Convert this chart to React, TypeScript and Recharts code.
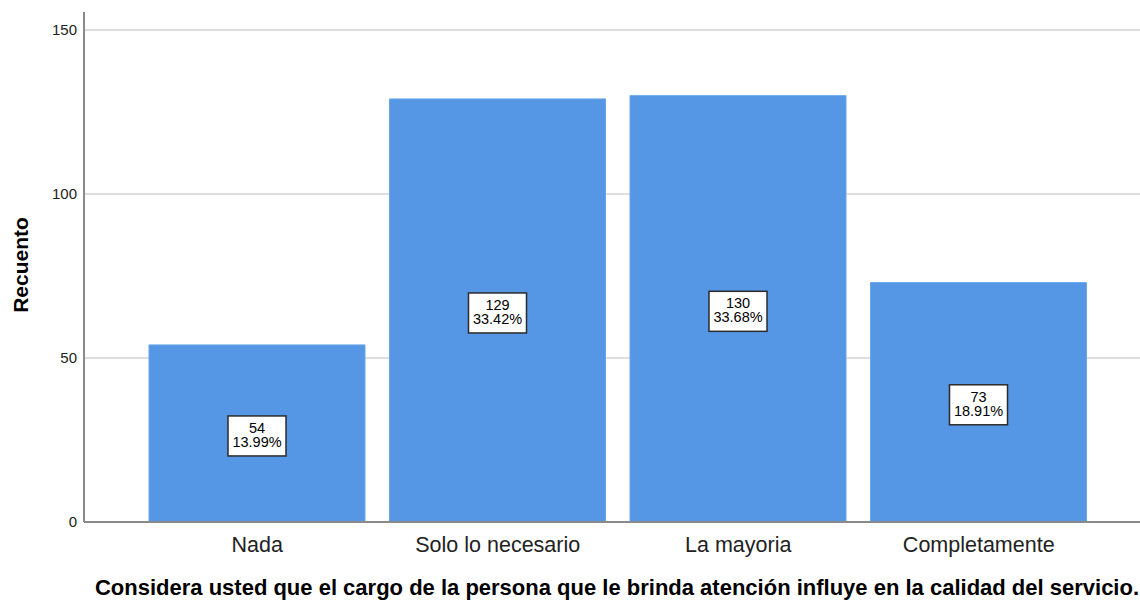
import React from 'react';
import { BarChart, Bar, XAxis, YAxis, CartesianGrid, LabelList } from 'recharts';

const categories = ['Nada', 'Solo lo necesario', 'La mayoria', 'Completamente'];
const counts = [54, 129, 130, 73];
const percents = ['13.99%', '33.42%', '33.68%', '18.91%'];
const yTicks = [0, 50, 100, 150];

const data = categories.map((c, i) => ({ name: c, value: counts[i], pct: percents[i] }));

const FONT = '"Liberation Sans", Arial, sans-serif';

const renderBoxLabel = (props: any) => {
  const { x, y, width, height, index } = props;
  const cx = x + width / 2;
  const cy = y + height / 2 + 2.5;
  const bw = 58;
  const bh = 40;
  return (
    <g>
      <rect x={cx - bw / 2} y={cy - bh / 2} width={bw} height={bh} fill="#ffffff" stroke="#2b2b2b" strokeWidth={1.5} />
      <text x={cx} y={cy - 3} textAnchor="middle" fontFamily={FONT} fontSize={14.5} fill="#000">
        {String(counts[index])}
      </text>
      <text x={cx} y={cy + 11} textAnchor="middle" fontFamily={FONT} fontSize={14.5} fill="#000">
        {percents[index]}
      </text>
    </g>
  );
};

export default function App() {
  return (
    <div style={{ position: 'absolute', left: 0, top: 0, width: 1140, height: 600, background: '#fff' }}>
      <BarChart
        width={1140}
        height={600}
        data={data}
        margin={{ top: 12, right: 0, bottom: 0, left: 0 }}
      >
        <CartesianGrid
          vertical={false}
          horizontalValues={[50, 100, 150]}
          stroke="#d4d4d4"
          strokeWidth={1.5}
        />
        <XAxis
          dataKey="name"
          height={78}
          padding={{ left: 53, right: 41 }}
          axisLine={{ stroke: '#8a8a8a', strokeWidth: 2 }}
          tickLine={false}
          tick={{ fontFamily: FONT, fontSize: 21.5, fill: '#222' }}
          tickMargin={9}
          label={(p: any) => {
            const vb = p.viewBox;
            return (
              <text x={617} y={vb.y + vb.height - 5} textAnchor="middle" fontFamily={FONT} fontSize={22} fontWeight="bold" fill="#000">
                Considera usted que el cargo de la persona que le brinda atención influye en la calidad del servicio.
              </text>
            );
          }}
        />
        <YAxis
          width={84}
          domain={[0, 155.5]}
          ticks={yTicks}
          interval={0}
          allowDataOverflow={true}
          axisLine={{ stroke: '#8a8a8a', strokeWidth: 2 }}
          tickLine={false}
          tickMargin={1}
          tick={{ fontFamily: FONT, fontSize: 15, fill: '#222' }}
          label={(p: any) => {
            const vb = p.viewBox;
            const cy = vb.y + vb.height / 2 - 2;
            return (
              <text x={28} y={cy} transform={`rotate(-90, 28, ${cy})`} textAnchor="middle" fontFamily={FONT} fontSize={21} fontWeight="bold" fill="#000">
                Recuento
              </text>
            );
          }}
        />
        <Bar dataKey="value" fill="#5596e5" stroke="#6aa6ec" strokeWidth={1} barSize={216} isAnimationActive={false}>
          <LabelList dataKey="value" content={renderBoxLabel} />
        </Bar>
      </BarChart>
    </div>
  );
}
